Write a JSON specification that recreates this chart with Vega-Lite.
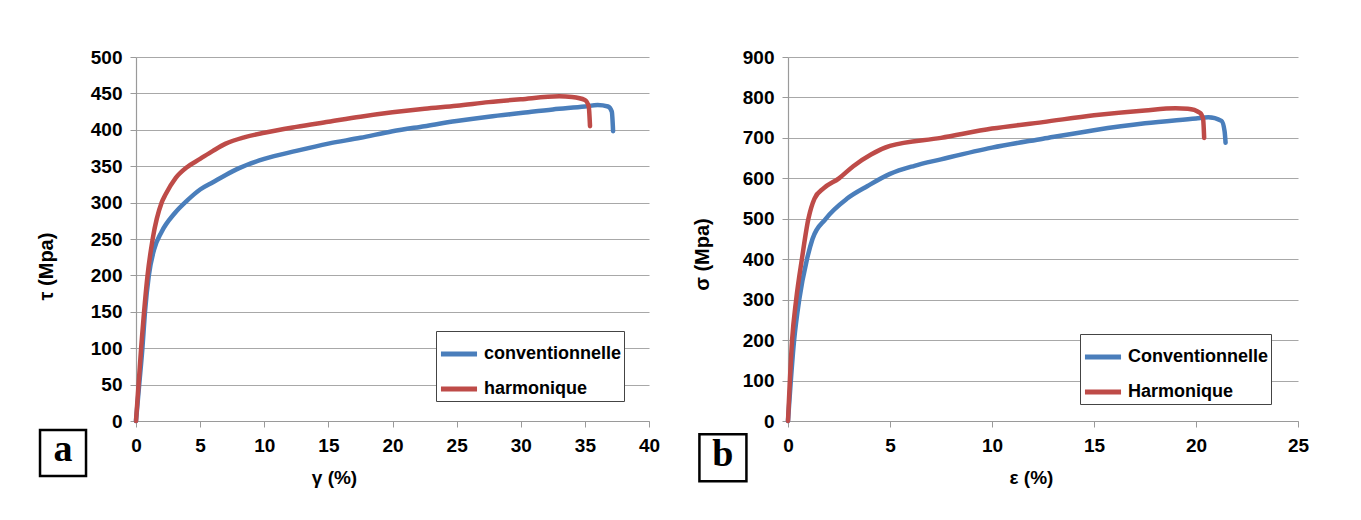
{
  "$schema": "https://vega.github.io/schema/vega-lite/v6.json",
  "background": "white",
  "padding": {"left": 35, "top": 48, "right": 10, "bottom": 10},
  "spacing": 32,
  "datasets": {
    "a": [
      {"g": 0, "t": 0, "s": "conventionnelle"},
      {"g": 0.25, "t": 50, "s": "conventionnelle"},
      {"g": 0.5, "t": 100, "s": "conventionnelle"},
      {"g": 0.7, "t": 150, "s": "conventionnelle"},
      {"g": 1.0, "t": 200, "s": "conventionnelle"},
      {"g": 1.4, "t": 235, "s": "conventionnelle"},
      {"g": 2, "t": 260, "s": "conventionnelle"},
      {"g": 3, "t": 285, "s": "conventionnelle"},
      {"g": 4, "t": 303, "s": "conventionnelle"},
      {"g": 5, "t": 318, "s": "conventionnelle"},
      {"g": 6, "t": 328, "s": "conventionnelle"},
      {"g": 7, "t": 338, "s": "conventionnelle"},
      {"g": 8, "t": 347, "s": "conventionnelle"},
      {"g": 10, "t": 360, "s": "conventionnelle"},
      {"g": 12.5, "t": 371, "s": "conventionnelle"},
      {"g": 15, "t": 381, "s": "conventionnelle"},
      {"g": 17.5, "t": 389, "s": "conventionnelle"},
      {"g": 20, "t": 398, "s": "conventionnelle"},
      {"g": 22.5, "t": 405, "s": "conventionnelle"},
      {"g": 25, "t": 412, "s": "conventionnelle"},
      {"g": 27.5, "t": 418, "s": "conventionnelle"},
      {"g": 30, "t": 423, "s": "conventionnelle"},
      {"g": 32.5, "t": 428, "s": "conventionnelle"},
      {"g": 35, "t": 432, "s": "conventionnelle"},
      {"g": 36, "t": 434, "s": "conventionnelle"},
      {"g": 36.8, "t": 432, "s": "conventionnelle"},
      {"g": 37.1, "t": 425, "s": "conventionnelle"},
      {"g": 37.2, "t": 398, "s": "conventionnelle"},
      {"g": 0, "t": 0, "s": "harmonique"},
      {"g": 0.4, "t": 100, "s": "harmonique"},
      {"g": 0.9, "t": 200, "s": "harmonique"},
      {"g": 1.3, "t": 250, "s": "harmonique"},
      {"g": 2.0, "t": 300, "s": "harmonique"},
      {"g": 2.3, "t": 311, "s": "harmonique"},
      {"g": 3.1, "t": 334, "s": "harmonique"},
      {"g": 4, "t": 349, "s": "harmonique"},
      {"g": 5, "t": 360, "s": "harmonique"},
      {"g": 6, "t": 371, "s": "harmonique"},
      {"g": 7, "t": 381, "s": "harmonique"},
      {"g": 8.5, "t": 390, "s": "harmonique"},
      {"g": 10, "t": 396, "s": "harmonique"},
      {"g": 12.5, "t": 404, "s": "harmonique"},
      {"g": 15, "t": 411, "s": "harmonique"},
      {"g": 17.5, "t": 418, "s": "harmonique"},
      {"g": 20, "t": 424, "s": "harmonique"},
      {"g": 22.5, "t": 429, "s": "harmonique"},
      {"g": 25, "t": 433, "s": "harmonique"},
      {"g": 27.5, "t": 438, "s": "harmonique"},
      {"g": 30, "t": 442, "s": "harmonique"},
      {"g": 33, "t": 446, "s": "harmonique"},
      {"g": 34, "t": 445, "s": "harmonique"},
      {"g": 35, "t": 441, "s": "harmonique"},
      {"g": 35.3, "t": 432, "s": "harmonique"},
      {"g": 35.4, "t": 405, "s": "harmonique"}
    ],
    "b": [
      {"e": 0, "s2": 0, "s": "Conventionnelle"},
      {"e": 0.3, "s2": 200, "s": "Conventionnelle"},
      {"e": 0.55, "s2": 300, "s": "Conventionnelle"},
      {"e": 0.93, "s2": 400, "s": "Conventionnelle"},
      {"e": 1.2, "s2": 450, "s": "Conventionnelle"},
      {"e": 1.85, "s2": 500, "s": "Conventionnelle"},
      {"e": 2.9, "s2": 550, "s": "Conventionnelle"},
      {"e": 3.9, "s2": 581, "s": "Conventionnelle"},
      {"e": 5, "s2": 611, "s": "Conventionnelle"},
      {"e": 6.2, "s2": 631, "s": "Conventionnelle"},
      {"e": 7.5, "s2": 647, "s": "Conventionnelle"},
      {"e": 10, "s2": 676, "s": "Conventionnelle"},
      {"e": 12.5, "s2": 698, "s": "Conventionnelle"},
      {"e": 15, "s2": 719, "s": "Conventionnelle"},
      {"e": 17.5, "s2": 736, "s": "Conventionnelle"},
      {"e": 20, "s2": 748, "s": "Conventionnelle"},
      {"e": 20.6, "s2": 751, "s": "Conventionnelle"},
      {"e": 21.25, "s2": 742, "s": "Conventionnelle"},
      {"e": 21.4, "s2": 717, "s": "Conventionnelle"},
      {"e": 21.45, "s2": 688, "s": "Conventionnelle"},
      {"e": 0, "s2": 0, "s": "Harmonique"},
      {"e": 0.2, "s2": 200, "s": "Harmonique"},
      {"e": 0.4, "s2": 300, "s": "Harmonique"},
      {"e": 0.68, "s2": 400, "s": "Harmonique"},
      {"e": 1.0, "s2": 500, "s": "Harmonique"},
      {"e": 1.3, "s2": 550, "s": "Harmonique"},
      {"e": 1.74, "s2": 575, "s": "Harmonique"},
      {"e": 2.5, "s2": 600, "s": "Harmonique"},
      {"e": 3.2, "s2": 630, "s": "Harmonique"},
      {"e": 4.07, "s2": 659, "s": "Harmonique"},
      {"e": 5, "s2": 680, "s": "Harmonique"},
      {"e": 7.5, "s2": 700, "s": "Harmonique"},
      {"e": 10, "s2": 723, "s": "Harmonique"},
      {"e": 12.5, "s2": 739, "s": "Harmonique"},
      {"e": 15, "s2": 756, "s": "Harmonique"},
      {"e": 17.5, "s2": 768, "s": "Harmonique"},
      {"e": 19, "s2": 773, "s": "Harmonique"},
      {"e": 19.6, "s2": 772, "s": "Harmonique"},
      {"e": 20.2, "s2": 762, "s": "Harmonique"},
      {"e": 20.35, "s2": 746, "s": "Harmonique"},
      {"e": 20.4, "s2": 700, "s": "Harmonique"}
    ],
    "one": [{}]
  },
  "resolve": {"scale": {"color": "independent"}, "legend": {"color": "independent"}},
  "hconcat": [
    {
      "width": 513,
      "height": 364,
      "layer": [
        {
          "data": {"name": "a"},
          "mark": {"type": "line", "strokeWidth": 4.5, "strokeCap": "round", "strokeJoin": "round", "interpolate": "monotone"},
          "encoding": {
            "x": {"field": "g", "type": "quantitative", "scale": {"domain": [0, 40], "nice": false},
              "axis": {"title": "γ (%)", "values": [0,5,10,15,20,25,30,35,40], "titleX": 198, "titleY": 62, "titleBaseline": "alphabetic", "titleFontSize": 19}},
            "y": {"field": "t", "type": "quantitative", "scale": {"domain": [0, 500], "nice": false},
              "axis": {"title": "τ (Mpa)", "values": [0,50,100,150,200,250,300,350,400,450,500], "titleX": -80, "titleY": 209, "titleFontSize": 20}},
            "color": {"field": "s", "type": "nominal",
              "scale": {"domain": ["conventionnelle", "harmonique"], "range": ["#4A7EBB", "#BE4B48"]},
              "legend": {"title": null, "orient": "none", "legendX": 300, "legendY": 274}}
          }
        },
        {
          "data": {"name": "one"},
          "mark": {"type": "point", "shape": "square", "filled": false, "size": 2116, "stroke": "black", "strokeWidth": 2.5, "opacity": 1},
          "encoding": {
            "x": {"datum": -5.69, "type": "quantitative", "axis": {"title": "γ (%)", "values": [0,5,10,15,20,25,30,35,40], "titleX": 198, "titleY": 62, "titleBaseline": "alphabetic", "titleFontSize": 19}},
            "y": {"datum": -44, "type": "quantitative", "axis": {"title": "τ (Mpa)", "values": [0,50,100,150,200,250,300,350,400,450,500], "titleX": -80, "titleY": 209, "titleFontSize": 20}}
          }
        },
        {
          "data": {"name": "one"},
          "mark": {"type": "text", "text": "a", "font": "Liberation Serif", "fontWeight": "bold", "fontSize": 38, "baseline": "middle", "align": "center", "dy": -3, "color": "black"},
          "encoding": {
            "x": {"datum": -5.69, "type": "quantitative", "axis": {"title": "γ (%)", "values": [0,5,10,15,20,25,30,35,40], "titleX": 198, "titleY": 62, "titleBaseline": "alphabetic", "titleFontSize": 19}},
            "y": {"datum": -44, "type": "quantitative", "axis": {"title": "τ (Mpa)", "values": [0,50,100,150,200,250,300,350,400,450,500], "titleX": -80, "titleY": 209, "titleFontSize": 20}}
          }
        }
      ]
    },
    {
      "width": 510,
      "height": 364,
      "layer": [
        {
          "data": {"name": "b"},
          "mark": {"type": "line", "strokeWidth": 4.5, "strokeCap": "round", "strokeJoin": "round", "interpolate": "monotone"},
          "encoding": {
            "x": {"field": "e", "type": "quantitative", "scale": {"domain": [0, 25], "nice": false},
              "axis": {"title": "ε (%)", "values": [0,5,10,15,20,25], "titleX": 243, "titleY": 62, "titleBaseline": "alphabetic", "titleFontSize": 19}},
            "y": {"field": "s2", "type": "quantitative", "scale": {"domain": [0, 900], "nice": false},
              "axis": {"title": "σ (Mpa)", "values": [0,100,200,300,400,500,600,700,800,900], "titleX": -76, "titleY": 197, "titleFontSize": 20}},
            "color": {"field": "s", "type": "nominal",
              "scale": {"domain": ["Conventionnelle", "Harmonique"], "range": ["#4A7EBB", "#BE4B48"]},
              "legend": {"title": null, "orient": "none", "legendX": 292, "legendY": 277}}
          }
        },
        {
          "data": {"name": "one"},
          "mark": {"type": "point", "shape": "square", "filled": false, "size": 2209, "stroke": "black", "strokeWidth": 2.5, "opacity": 1},
          "encoding": {
            "x": {"datum": -3.19, "type": "quantitative", "axis": {"title": "ε (%)", "values": [0,5,10,15,20,25], "titleX": 243, "titleY": 62, "titleBaseline": "alphabetic", "titleFontSize": 19}},
            "y": {"datum": -91, "type": "quantitative", "axis": {"title": "σ (Mpa)", "values": [0,100,200,300,400,500,600,700,800,900], "titleX": -76, "titleY": 197, "titleFontSize": 20}}
          }
        },
        {
          "data": {"name": "one"},
          "mark": {"type": "text", "text": "b", "font": "Liberation Serif", "fontWeight": "bold", "fontSize": 38, "baseline": "middle", "align": "center", "dy": -3, "color": "black"},
          "encoding": {
            "x": {"datum": -3.19, "type": "quantitative", "axis": {"title": "ε (%)", "values": [0,5,10,15,20,25], "titleX": 243, "titleY": 62, "titleBaseline": "alphabetic", "titleFontSize": 19}},
            "y": {"datum": -91, "type": "quantitative", "axis": {"title": "σ (Mpa)", "values": [0,100,200,300,400,500,600,700,800,900], "titleX": -76, "titleY": 197, "titleFontSize": 20}}
          }
        }
      ]
    }
  ],
  "config": {
    "view": {"stroke": null},
    "font": "Liberation Sans",
    "axis": {
      "labelFont": "Liberation Sans",
      "labelFontWeight": "bold",
      "labelFontSize": 19,
      "labelColor": "#000000",
      "labelOverlap": false,
      "titleFont": "Liberation Sans",
      "titleFontWeight": "bold",
      "titleColor": "#000000",
      "domainColor": "#9a9a9a",
      "domainWidth": 1.2,
      "tickColor": "#9a9a9a",
      "tickSize": 6,
      "gridColor": "#a8a8a8",
      "gridWidth": 1.2
    },
    "axisX": {"grid": false, "labelPadding": 9, "labelFlush": false},
    "axisY": {"grid": true, "labelPadding": 8, "domain": true},
    "legend": {
      "strokeColor": "#444444",
      "fillColor": "white",
      "padding": 2,
      "labelFont": "Liberation Sans",
      "labelFontWeight": "bold",
      "labelFontSize": 18,
      "labelColor": "#000000",
      "symbolType": "M-1,0L1,0",
      "symbolStrokeWidth": 5,
      "symbolSize": 1300,
      "rowPadding": 4,
      "labelOffset": 4
    }
  }
}
